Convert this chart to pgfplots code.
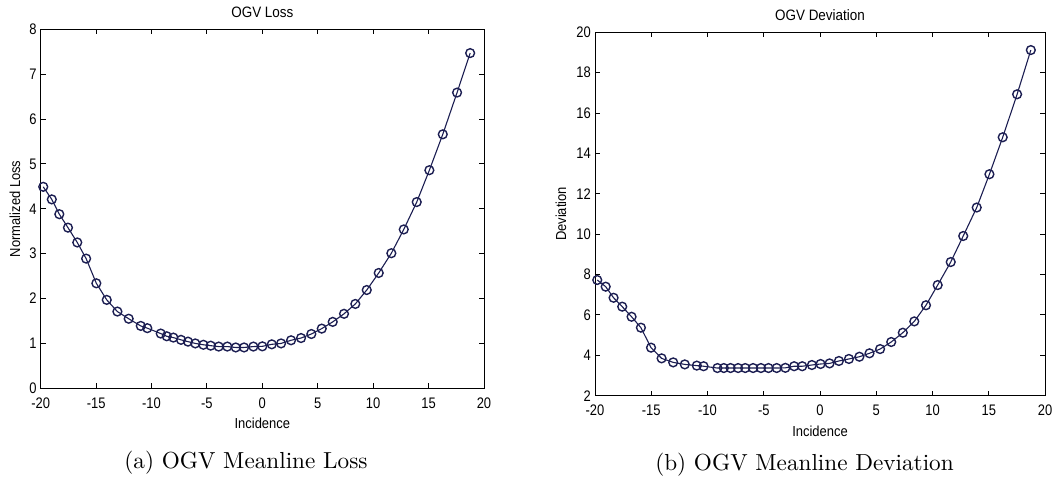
\documentclass[border=0pt]{standalone}
\usepackage{fontspec}
\setsansfont{Liberation Sans}
\newfontfamily\capfont[Extension=.otf]{lmroman10-regular}
\usepackage{pgfplots}
\usepackage{pgfplotstable}
\pgfplotsset{compat=1.18}

\definecolor{trace}{RGB}{28,30,82}

% Incidence sweep: normalized loss
\pgfplotstableread{
inc loss
-19.77 4.49
-19.00 4.21
-18.32 3.88
-17.54 3.58
-16.70 3.25
-15.90 2.89
-14.98 2.34
-14.04 1.97
-13.08 1.71
-12.06 1.55
-10.97 1.39
-10.38 1.34
-9.17 1.22
-8.63 1.16
-8.03 1.13
-7.34 1.08
-6.71 1.04
-6.05 1.00
-5.32 0.97
-4.66 0.95
-3.94 0.93
-3.16 0.93
-2.40 0.91
-1.65 0.91
-0.81 0.93
0.00 0.935
0.85 0.98
1.69 1.00
2.59 1.07
3.49 1.12
4.42 1.21
5.36 1.33
6.35 1.48
7.37 1.66
8.39 1.88
9.42 2.19
10.50 2.57
11.64 3.01
12.76 3.54
13.93 4.15
15.07 4.86
16.28 5.66
17.57 6.59
18.75 7.47
}\lossdata

% Incidence sweep: deviation
\pgfplotstableread{
inc dev
-19.80 7.73
-19.05 7.40
-18.35 6.85
-17.58 6.41
-16.75 5.91
-15.92 5.37
-15.02 4.38
-14.08 3.85
-13.05 3.65
-12.02 3.55
-10.95 3.49
-10.35 3.46
-9.12 3.37
-8.55 3.37
-7.95 3.37
-7.28 3.37
-6.65 3.37
-5.95 3.37
-5.25 3.37
-4.58 3.37
-3.85 3.37
-3.08 3.38
-2.30 3.46
-1.58 3.46
-0.72 3.52
0.05 3.57
0.85 3.60
1.68 3.72
2.57 3.82
3.50 3.93
4.40 4.10
5.34 4.31
6.33 4.66
7.36 5.12
8.38 5.68
9.42 6.48
10.46 7.48
11.62 8.62
12.73 9.91
13.93 11.32
15.06 12.97
16.24 14.80
17.52 16.93
18.74 19.12
}\devdata

\pgfplotsset{
  matlab/.style={
    scale only axis, anchor=south west, clip=false,
    xmin=-20, xmax=20, xtick={-20,-15,...,20},
    axis line style={line width=1bp, black},
    tick style={line width=1bp, black},
    tick align=inside, major tick length=5bp,
    xtick pos=both, ytick pos=both,
    xticklabel pos=lower, yticklabel pos=left,
    /pgf/number format/assume math mode=true,
    tick label style={font=\sffamily\fontsize{13}{15}\selectfont,
      yscale=1.18, transform shape},
    xticklabel style={anchor=base, yshift=-17bp},
    yticklabel style={anchor=east, inner sep=0pt, xshift=-4bp},
    label style={font=\sffamily\fontsize{13}{15}\selectfont,
      yscale=1.12, transform shape},
    xlabel style={at={(axis description cs:0.5,0)}, anchor=base, yshift=-36bp},
    ylabel style={anchor=center, rotate=0},
    title style={font=\sffamily\fontsize{13.5}{15}\selectfont,
      yscale=1.12, transform shape,
      at={(axis description cs:0.5,1)}, anchor=base, yshift=5.5bp},
  },
  series/.style={
    color=trace, line width=1.1bp, mark=o,
    mark size=4.4bp, mark options={line width=1.4bp, draw=trace},
  },
}

\begin{document}
\begin{tikzpicture}
\path[use as bounding box] (0,0) rectangle (1059bp,479bp);

\begin{axis}[matlab,
  at={(40.7bp,90.7bp)}, width=443.3bp, height=359bp,
  ymin=0, ymax=8, ytick={0,1,...,8},
  title={OGV Loss}, xlabel={Incidence}, ylabel={Normalized Loss},
  ylabel style={at={(axis description cs:-0.058,0.5)}}]
\addplot[series] table[x=inc, y=loss] {\lossdata};
\end{axis}

\begin{axis}[matlab,
  at={(595bp,83.3bp)}, width=450bp, height=363.4bp,
  ymin=2, ymax=20, ytick={2,4,...,20},
  title={OGV Deviation}, xlabel={Incidence}, ylabel={Deviation},
  ylabel style={at={(axis description cs:-0.0756,0.5)}}]
\addplot[series] table[x=inc, y=dev] {\devdata};
\end{axis}

\node[anchor=base, inner sep=0pt, font=\capfont\fontsize{23.3}{28}\selectfont]
  at (246bp,11bp) {(a) OGV Meanline Loss};
\node[anchor=base, inner sep=0pt, font=\capfont\fontsize{23.3}{28}\selectfont]
  at (804.5bp,9bp) {(b) OGV Meanline Deviation};
\end{tikzpicture}
\end{document}
